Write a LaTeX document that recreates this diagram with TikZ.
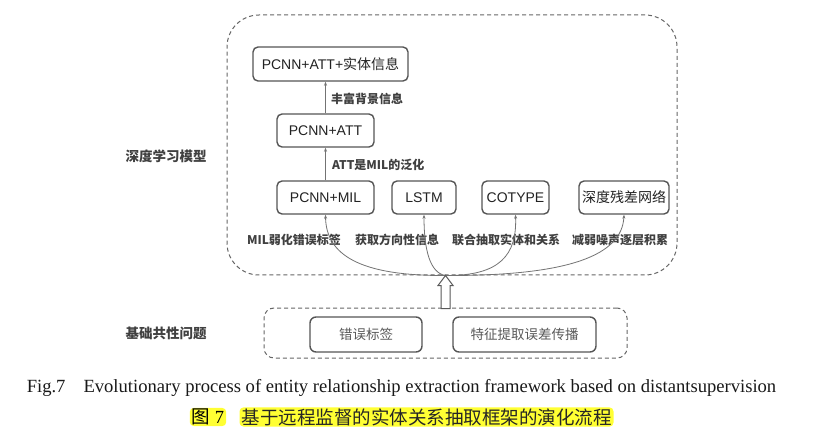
\documentclass[tikz,border=0pt]{standalone}
\usepackage{fontspec}
\setmainfont{Liberation Serif}
\newfontfamily\lsans{Liberation Sans}
\newfontfamily\cjk{Noto Sans CJK SC}
\usetikzlibrary{arrows.meta,calc}
\definecolor{boxline}{HTML}{555555}
\definecolor{txt}{HTML}{222222}
\definecolor{dashc}{HTML}{666666}
\definecolor{hl}{HTML}{FFFF33}
\begin{document}
\begin{tikzpicture}[x=1pt,y=-1pt,
 model/.style={draw=boxline, line width=1.4pt, rounded corners=5pt, minimum height=33pt, inner sep=0pt, font=\fontsize{14}{16}\lsans, text=txt},
 issue/.style={draw=boxline, line width=1.4pt, rounded corners=6pt, minimum height=35pt, inner sep=0pt, font=\fontsize{13.5}{16}\cjk, text=black!65},
 frame/.style={draw=dashc, dash pattern=on 4pt off 3pt, line width=1pt, inner sep=0pt},
 elabel/.style={font=\fontsize{12}{14}\cjk\bfseries, text=black!75, inner sep=0pt},
 flow/.style={draw=black!55, line width=0.8pt, -{Stealth[length=4pt,width=3pt]}},
 hollow/.style={draw=black!65, fill=white, line width=1pt},
 side/.style={font=\fontsize{13.5}{16}\cjk\bfseries, text=black!75},
 hlbox/.style={fill=hl, rounded corners=4pt, inner xsep=2pt, inner ysep=1pt}]
\useasboundingbox (0,0) rectangle (826,435);
\fill[white] (0,0) rectangle (826,435);

% frames
\node[frame, rounded corners=32pt, minimum width=450pt, minimum height=260pt] (outer) at (452,145) {};
\node[frame, rounded corners=10pt, minimum width=363pt, minimum height=50pt] (base) at (445.5,333) {};

% model boxes
\node[model, minimum width=155pt, minimum height=34pt] (top) at (330.5,64) {PCNN+ATT+{\cjk 实体信息}};
\node[model, minimum width=97pt] (att) at (325.5,130.5) {PCNN+ATT};
\node[model, minimum width=97pt] (mil) at (325.5,197.5) {PCNN+MIL};
\node[model, minimum width=64pt] (lstm) at (424,197.5) {LSTM};
\node[model, minimum width=67pt] (cot) at (515.5,197.5) {COTYPE};
\node[model, minimum width=90pt] (res) at (624,197.5) {\cjk 深度残差网络};

% issue boxes
\node[issue, minimum width=112pt] (err) at (366,334.5) {错误标签};
\node[issue, minimum width=143pt] (feat) at (524.5,334.5) {特征提取误差传播};

% side labels
\node[side] (l1) at (166,156) {深度学习模型};
\node[side] (l2) at (166,333) {基础共性问题};

% edge labels
\node[elabel, anchor=west] (e1) at (331,99) {丰富背景信息};
\node[elabel, anchor=west] (e2) at (332,165) {ATT是MIL的泛化};
\node[elabel] (b1) at (294,240) {MIL弱化错误标签};
\node[elabel] (b2) at (397,240) {获取方向性信息};
\node[elabel] (b3) at (506,240) {联合抽取实体和关系};
\node[elabel] (b4) at (620,240) {减弱噪声逐层积累};

% vertical arrows
\draw[flow] (mil.north) -- (att.south);
\draw[flow] (att.north) -- (att.north |- top.south);

% converging curves
\coordinate (conv) at (base.north |- outer.south);
\draw[flow] (conv) .. controls (360,276) and (326,255) .. (mil.south);
\draw[flow] (conv) .. controls (430,273) and (424,250) .. (lstm.south);
\draw[flow] (conv) .. controls (500,276) and (517,255) .. (cot.south);
\draw[flow] (conv) .. controls (570,276) and (622,255) .. (res.south);

% hollow arrow
\draw[hollow] (conv) -- ++(7.5,10) -- ++(-3,0) -- ++(0,23) -- ++(-9,0) -- ++(0,-23) -- ++(-3,0) -- cycle;

% captions
\node[font=\fontsize{18.6}{21}\selectfont, text=black!90] (cap) at (401.5,388) {Fig.7\hspace{18pt}Evolutionary process of entity relationship extraction framework based on distantsupervision};
\node[hlbox, font=\fontsize{18.5}{20}\selectfont] (fig) at (208,417) {{\cjk 图} 7};
\node[hlbox, font=\fontsize{18.5}{20}\cjk, text=black!85] (title) at (426.5,417) {基于远程监督的实体关系抽取框架的演化流程};
\end{tikzpicture}
\end{document}
